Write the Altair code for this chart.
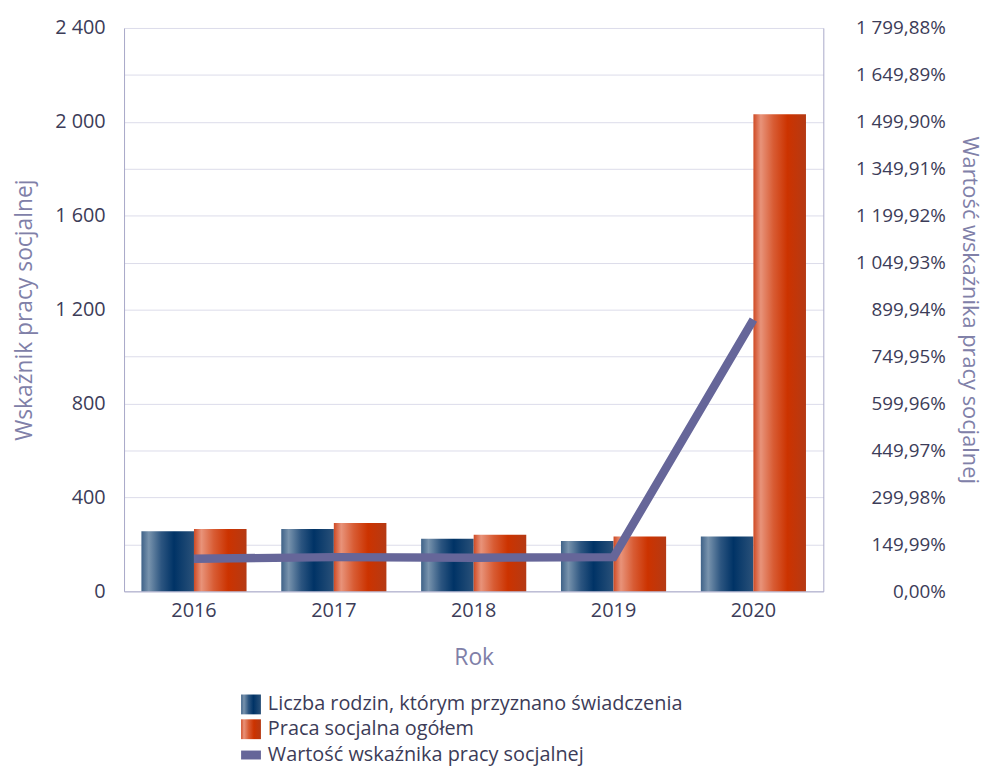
import altair as alt
import pandas as pd

years = ["2016", "2017", "2018", "2019", "2020"]
families = [256, 266, 224, 214, 234]
social_work = [266, 291, 241, 234, 2032]
indicator = [103.9, 109.4, 107.6, 109.3, 868.4]

names = [
    "Liczba rodzin, którym przyznano świadczenia",
    "Praca socjalna ogółem",
    "Wartość wskaźnika pracy socjalnej",
]

df = pd.DataFrame({"year": years, "families": families, "social": social_work, "ratio": indicator})
legend_df = pd.DataFrame({"name": names})

FONT = "Open Sans"
LABEL = "#3c3c58"
TITLE = "#8080a8"
DOMAIN = "#a8a8c8"
LINE = "#666699"

blue_grad = alt.LinearGradient(
    gradient="linear", x1=0, x2=1, y1=0, y2=0,
    stops=[
        alt.GradientStop(offset=0, color="#3f6288"),
        alt.GradientStop(offset=0.14, color="#7893ad"),
        alt.GradientStop(offset=0.38, color="#2c5580"),
        alt.GradientStop(offset=0.62, color="#003366"),
        alt.GradientStop(offset=1, color="#2a5179"),
    ],
)
orange_grad = alt.LinearGradient(
    gradient="linear", x1=0, x2=1, y1=0, y2=0,
    stops=[
        alt.GradientStop(offset=0, color="#cf4a24"),
        alt.GradientStop(offset=0.14, color="#e8937a"),
        alt.GradientStop(offset=0.38, color="#d85c34"),
        alt.GradientStop(offset=0.65, color="#cc3300"),
        alt.GradientStop(offset=1, color="#b53a14"),
    ],
)

left_values = list(range(0, 2401, 200))
right_values = [round(149.99 * i, 2) for i in range(13)]

x_enc = alt.X(
    "year:N",
    sort=years,
    scale=alt.Scale(paddingInner=0, paddingOuter=0),
    axis=alt.Axis(
        title="Rok", labelAngle=0, ticks=False, labelPadding=9, titlePadding=27,
        labelFontSize=20, titleFontSize=23, labelColor=LABEL, titleColor=TITLE,
        titleFontWeight="normal", domainColor=DOMAIN,
    ),
)

left_axis = alt.Axis(
    title="Wskaźnik pracy socjalnej", values=left_values,
    labelExpr="datum.value % 400 === 0 ? format(datum.value, ',d') : ''",
    grid=True, gridColor="#dcdcea", ticks=False, labelPadding=19, titlePadding=18,
    labelFontSize=20, titleFontSize=23, labelColor=LABEL, titleColor=TITLE,
    titleFontWeight="normal", domainColor=DOMAIN,
)
left_scale = alt.Scale(domain=[0, 2400], nice=False)

blue = alt.Chart(df).mark_bar(width=53, xOffset=-26.5, color=blue_grad).encode(
    x=x_enc, y=alt.Y("families:Q", scale=left_scale, axis=left_axis)
)
orange = alt.Chart(df).mark_bar(width=53, xOffset=26.5, color=orange_grad).encode(
    x=x_enc, y=alt.Y("social:Q", scale=left_scale, axis=left_axis)
)
bars = alt.layer(blue, orange)

line = alt.Chart(df).mark_line(color=LINE, strokeWidth=8.5, strokeCap="butt").encode(
    x=x_enc,
    y=alt.Y(
        "ratio:Q",
        scale=alt.Scale(domain=[0, 1799.88], nice=False),
        axis=alt.Axis(
            orient="right", title="Wartość wskaźnika pracy socjalnej", values=right_values,
            labelExpr="format(datum.value, ',.2f') + '%'", grid=False, ticks=False,
            labelAlign="right", labelPadding=123, titlePadding=12,
            labelFontSize=19, titleFontSize=22, labelColor=LABEL, titleColor=TITLE,
            titleFontWeight="normal", domainColor=DOMAIN,
        ),
    ),
)

LEG_X = 118
LINE_SHAPE = "M-1,-0.45H1V0.45H-1Z"


def legend(y, **kw):
    return alt.Legend(
        title=None, orient="none", legendX=LEG_X, legendY=y, direction="vertical",
        symbolSize=400, symbolStrokeWidth=0, padding=0, labelOffset=7,
        labelFontSize=20, labelColor=LABEL, labelLimit=700, **kw,
    )


leg_a = alt.Chart(legend_df).mark_point(filled=True, opacity=1, color=blue_grad).encode(
    shape=alt.Shape("name:N", scale=alt.Scale(domain=[names[0]], range=["square"]),
                    legend=legend(672))
).transform_filter("false")

leg_b = alt.Chart(legend_df).mark_point(filled=True, shape="square", color=orange_grad).encode(
    opacity=alt.Opacity("name:N", scale=alt.Scale(domain=[names[1]], range=[1]),
                        legend=legend(697, symbolType="square"))
).transform_filter("false")

leg_c = alt.Chart(legend_df).mark_point(filled=True, opacity=1).encode(
    color=alt.Color("name:N", scale=alt.Scale(domain=[names[2]], range=[LINE]),
                    legend=legend(723, symbolType=LINE_SHAPE))
).transform_filter("false")

chart = (
    alt.layer(bars, line, leg_a, leg_b, leg_c)
    .resolve_scale(y="independent")
    .properties(
        width=705, height=568,
        padding={"left": 117, "top": 17, "right": 164, "bottom": 180},
        autosize=alt.AutoSizeParams(type="none"),
    )
    .configure(locale=alt.Locale(number=alt.NumberLocale(decimal=",", thousands=" ", grouping=[3], currency=["", " zł"])))
    .configure_view(stroke="transparent")
    .configure_axis(labelFont=FONT, titleFont=FONT)
    .configure_legend(labelFont=FONT)
)

chart.save("out.html", embed_options={"renderer": "svg", "actions": False})
